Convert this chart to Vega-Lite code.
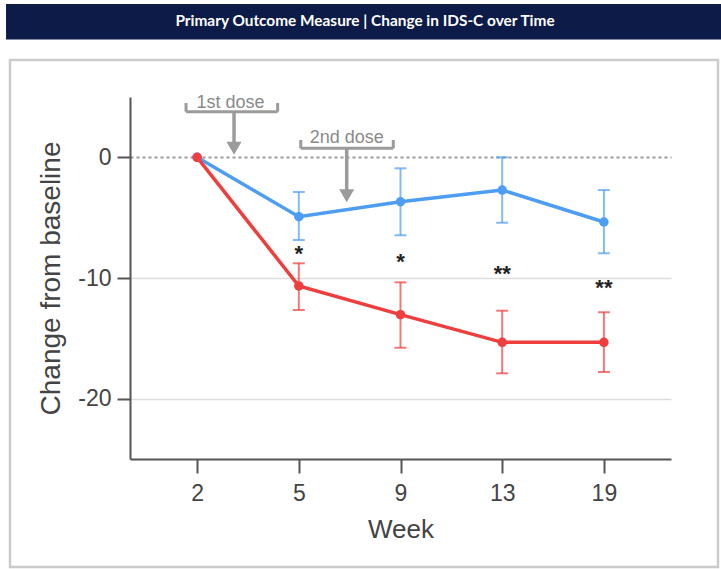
{
  "$schema": "https://vega.github.io/schema/vega-lite/v6.json",
  "width": 541,
  "height": 362,
  "autosize": {"type": "none"},
  "padding": {"left": 130, "top": 97, "right": 50, "bottom": 110},
  "background": "white",
  "config": {"view": {"stroke": null}, "font": "Liberation Sans"},
  "datasets": {
    "scores": [
      {"week": 2, "group": "Control", "mean": 0, "lo": 0, "hi": 0},
      {"week": 5, "group": "Control", "mean": -4.92, "lo": -6.85, "hi": -2.87},
      {"week": 9, "group": "Control", "mean": -3.68, "lo": -6.46, "hi": -0.91},
      {"week": 13, "group": "Control", "mean": -2.71, "lo": -5.42, "hi": 0},
      {"week": 19, "group": "Control", "mean": -5.36, "lo": -7.95, "hi": -2.71},
      {"week": 2, "group": "Treatment", "mean": 0, "lo": 0, "hi": 0},
      {"week": 5, "group": "Treatment", "mean": -10.66, "lo": -12.65, "hi": -8.78},
      {"week": 9, "group": "Treatment", "mean": -13.04, "lo": -15.78, "hi": -10.36},
      {"week": 13, "group": "Treatment", "mean": -15.33, "lo": -17.9, "hi": -12.71},
      {"week": 19, "group": "Treatment", "mean": -15.33, "lo": -17.79, "hi": -12.84}
    ],
    "sig": [
      {"week": 5, "label": "*", "yv": -7.74},
      {"week": 9, "label": "*", "yv": -8.4},
      {"week": 13, "label": "**", "yv": -9.42},
      {"week": 19, "label": "**", "yv": -10.6}
    ],
    "dose": [
      {"label": "1st dose", "x1": -0.109, "x2": 0.792, "xa": 0.363, "xt": 0.328, "ybar": 3.78, "ytop": 4.5, "yhc": 0.744, "ytext": 4.11},
      {"label": "2nd dose", "x1": 1.019, "x2": 1.929, "xa": 1.471, "xt": 1.471, "ybar": 0.75, "ytop": 1.44, "yhc": -3.19, "ytext": 1.16}
    ]
  },
  "layer": [
    {
      "layer": [
        {
          "data": {"name": "scores"},
          "transform": [{"filter": "datum.week > 2"}],
          "mark": {"type": "errorbar", "ticks": {"size": 12}, "thickness": 2, "opacity": 0.7},
          "encoding": {
            "x": {"field": "week", "type": "ordinal",
              "scale": {"type": "point", "padding": 0.66, "domain": [2, 5, 9, 13, 19]},
              "axis": {"title": "Week", "labelAngle": 0, "grid": false, "domainColor": "#555", "domainWidth": 2, "tickColor": "#555", "tickWidth": 2, "tickSize": 14, "labelFontSize": 23, "labelColor": "#444", "labelPadding": 9, "titleFontSize": 26, "titleFontWeight": "normal", "titleColor": "#444", "titlePadding": 11}},
            "y": {"field": "lo", "type": "quantitative",
              "scale": {"domain": [-25, 5], "nice": false, "zero": false},
              "axis": {"title": "Change from baseline", "values": [0, -10, -20], "grid": true,
                "labelExpr": "'' + datum.value",
                "gridColor": {"condition": {"test": "datum.value === 0", "value": "#9a9a9a"}, "value": "#dddddd"},
                "gridDash": {"condition": {"test": "datum.value === 0", "value": [3, 3]}, "value": []},
                "gridWidth": {"condition": {"test": "datum.value === 0", "value": 2}, "value": 1.5},
                "domainColor": "#555", "domainWidth": 2, "tickColor": "#555", "tickWidth": 2, "tickSize": 13, "labelFontSize": 23, "labelColor": "#444", "labelPadding": 6, "titleFontSize": 28, "titleFontWeight": "normal", "titleColor": "#444", "titlePadding": 12}},
            "y2": {"field": "hi"},
            "color": {"field": "group", "type": "nominal", "scale": {"domain": ["Control", "Treatment"], "range": ["#4d9ef2", "#ee3e3e"]}, "legend": null}
          }
        },
        {
          "data": {"name": "scores"},
          "mark": {"type": "line", "strokeWidth": 3.5},
          "encoding": {
            "x": {"field": "week", "type": "ordinal"},
            "y": {"field": "mean", "type": "quantitative"},
            "color": {"field": "group", "type": "nominal", "legend": null}
          }
        },
        {
          "data": {"name": "scores"},
          "mark": {"type": "point", "filled": true, "size": 90, "opacity": 1},
          "encoding": {
            "x": {"field": "week", "type": "ordinal"},
            "y": {"field": "mean", "type": "quantitative"},
            "color": {"field": "group", "type": "nominal", "legend": null}
          }
        },
        {
          "data": {"name": "sig"},
          "mark": {"type": "text", "fontSize": 22, "fontWeight": "bold", "color": "#222", "baseline": "middle", "dy": 3},
          "encoding": {
            "x": {"field": "week", "type": "ordinal"},
            "y": {"field": "yv", "type": "quantitative"},
            "text": {"field": "label"}
          }
        }
      ]
    },
    {
      "layer": [
        {
          "data": {"values": [{}]},
          "mark": {"type": "rect", "filled": false, "stroke": "#cbcbcb", "strokeWidth": 2.5},
          "encoding": {
            "x": {"datum": -1.84, "type": "quantitative", "scale": {"domain": [-0.66, 4.66], "nice": false, "zero": false}, "axis": null},
            "x2": {"datum": 5.122},
            "y": {"datum": 8.066, "type": "quantitative"},
            "y2": {"datum": -33.95}
          }
        },
        {
          "data": {"values": [{}]},
          "mark": {"type": "rect", "color": "#0c1b47"},
          "encoding": {
            "x": {"datum": -1.879, "type": "quantitative", "axis": null},
            "x2": {"datum": 5.3},
            "y": {"datum": 12.71, "type": "quantitative"},
            "y2": {"datum": 9.77}
          }
        },
        {
          "data": {"values": [{"t": "Primary Outcome Measure | Change in IDS-C over Time"}]},
          "mark": {"type": "text", "font": "Lato", "fontWeight": "bold", "fontSize": 15.4, "color": "white", "align": "center", "baseline": "middle"},
          "encoding": {
            "x": {"datum": 1.651, "type": "quantitative", "axis": null},
            "y": {"datum": 11.26, "type": "quantitative"},
            "text": {"field": "t"}
          }
        },
        {
          "data": {"name": "dose"},
          "mark": {"type": "rule", "color": "#9b9b9b", "strokeWidth": 3},
          "encoding": {
            "x": {"field": "x1", "type": "quantitative", "axis": null},
            "x2": {"field": "x2"},
            "y": {"field": "ybar", "type": "quantitative"}
          }
        },
        {
          "data": {"name": "dose"},
          "mark": {"type": "rule", "color": "#9b9b9b", "strokeWidth": 3},
          "encoding": {
            "x": {"field": "x1", "type": "quantitative", "axis": null},
            "y": {"field": "ybar", "type": "quantitative"},
            "y2": {"field": "ytop"}
          }
        },
        {
          "data": {"name": "dose"},
          "mark": {"type": "rule", "color": "#9b9b9b", "strokeWidth": 3},
          "encoding": {
            "x": {"field": "x2", "type": "quantitative", "axis": null},
            "y": {"field": "ybar", "type": "quantitative"},
            "y2": {"field": "ytop"}
          }
        },
        {
          "data": {"name": "dose"},
          "mark": {"type": "rule", "color": "#9b9b9b", "strokeWidth": 3.5},
          "encoding": {
            "x": {"field": "xa", "type": "quantitative", "axis": null},
            "y": {"field": "ybar", "type": "quantitative"},
            "y2": {"field": "yhc"}
          }
        },
        {
          "data": {"name": "dose"},
          "mark": {"type": "point", "shape": "triangle-down", "filled": true, "size": 225, "color": "#9b9b9b", "opacity": 1},
          "encoding": {
            "x": {"field": "xa", "type": "quantitative", "axis": null},
            "y": {"field": "yhc", "type": "quantitative"}
          }
        },
        {
          "data": {"name": "dose"},
          "mark": {"type": "text", "fontSize": 18, "color": "#8a8a8a", "align": "center", "baseline": "alphabetic"},
          "encoding": {
            "x": {"field": "xt", "type": "quantitative", "axis": null},
            "y": {"field": "ytext", "type": "quantitative"},
            "text": {"field": "label"}
          }
        }
      ]
    }
  ],
  "resolve": {"scale": {"x": "independent"}}
}
